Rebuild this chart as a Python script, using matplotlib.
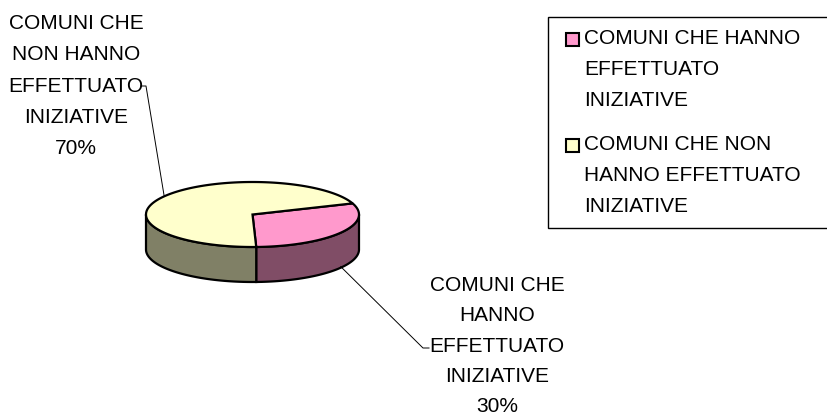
import numpy as np
import matplotlib
matplotlib.use("Agg")
import matplotlib.pyplot as plt
from matplotlib.patches import Polygon, Rectangle

categories = ["COMUNI CHE HANNO EFFETTUATO INIZIATIVE",
              "COMUNI CHE NON HANNO EFFETTUATO INIZIATIVE"]
values = [30, 70]
pct_labels = ["30%", "70%"]
label_lines = ["COMUNI CHE\nHANNO\nEFFETTUATO\nINIZIATIVE",
               "COMUNI CHE\nNON HANNO\nEFFETTUATO\nINIZIATIVE"]
legend_lines = ["COMUNI CHE HANNO\nEFFETTUATO\nINIZIATIVE",
                "COMUNI CHE NON\nHANNO EFFETTUATO\nINIZIATIVE"]
top_colors = ["#FF99CC", "#FFFFCC"]
side_colors = ["#804D66", "#808066"]

plt.rcParams['font.family'] = ['Liberation Sans', 'DejaVu Sans']
fig = plt.figure(figsize=(8.27, 4.17), dpi=100)
ax = fig.add_axes([0, 0, 1, 1])
ax.set_xlim(0, 827)
ax.set_ylim(417, 0)
ax.axis('off')

cx, cy, rx, ry, depth = 252.5, 214.5, 106.5, 32.5, 35
start = -88.0
total = sum(values)
lw = 1.6

def pt(t, dz=0):
    r = np.radians(t)
    return cx + rx * np.cos(r), cy - ry * np.sin(r) + dz

angles = []
a = start
for v in values:
    b = a + v / total * 360
    angles.append((a, b))
    a = b

# side walls (front half: 180..360)
for i, (a0, b0) in enumerate(angles):
    for k in (-360, 0, 360):
        lo = max(a0 + k, 180)
        hi = min(b0 + k, 360)
        if hi > lo:
            ts = np.linspace(lo, hi, 100)
            top = [pt(t) for t in ts]
            bot = [pt(t, depth) for t in ts[::-1]]
            ax.add_patch(Polygon(top + bot, closed=True, facecolor=side_colors[i],
                                 edgecolor='black', linewidth=lw, joinstyle='miter'))

# top faces
for i, (a0, b0) in enumerate(angles):
    ts = np.linspace(a0, b0, 200)
    poly = [(cx, cy)] + [pt(t) for t in ts]
    ax.add_patch(Polygon(poly, closed=True, facecolor=top_colors[i],
                         edgecolor='black', linewidth=lw, joinstyle='miter'))

fs = 15
# data labels with leader lines
m0 = (angles[0][0] + angles[0][1]) / 2
ax0 = pt(m0, depth)
ax.plot([ax0[0], 423, 429], [ax0[1] - 1, 348, 348], color='black', lw=0.7)
ax.text(497, 346, label_lines[0] + "\n" + pct_labels[0], ha='center', va='center',
        fontsize=fs, linespacing=1.75)
m1 = (angles[1][0] + angles[1][1]) / 2
ax1 = pt(m1)
ax.plot([ax1[0], 146, 141], [ax1[1], 86, 86], color='black', lw=0.7)
ax.text(76, 86, label_lines[1] + "\n" + pct_labels[1], ha='center', va='center',
        fontsize=fs, linespacing=1.82)

# legend
ax.add_patch(Rectangle((548, 17), 290, 211, facecolor='white', edgecolor='black', lw=1.0))
for i, (yc, ytext) in enumerate([(39, 69.5), (145, 175)]):
    ax.add_patch(Rectangle((566, yc - 6.5), 13, 13, facecolor=top_colors[i],
                           edgecolor='black', lw=1.5))
    ax.text(584, ytext, legend_lines[i], ha='left', va='center', fontsize=fs,
            linespacing=1.8)

fig.savefig("out.png", dpi=100)
